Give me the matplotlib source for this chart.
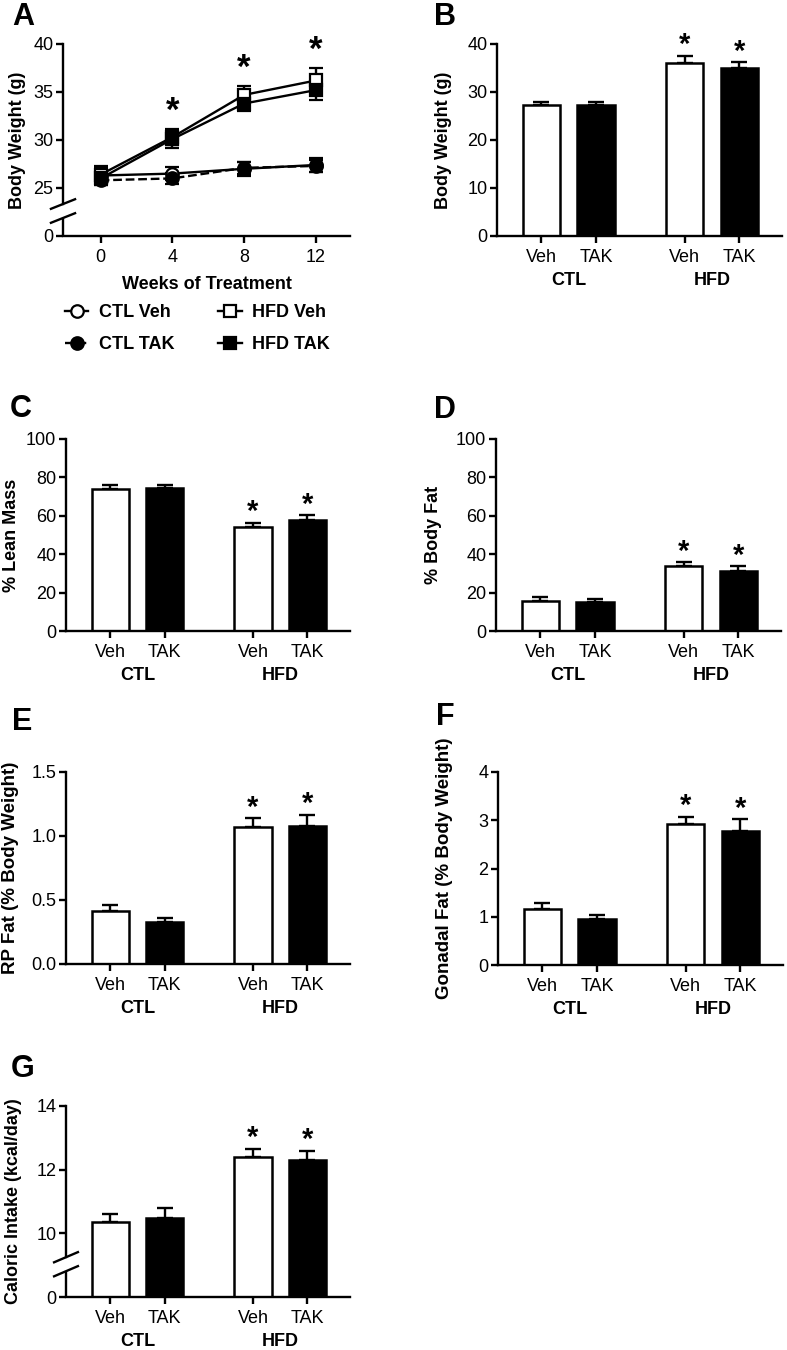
import matplotlib.pyplot as plt
import matplotlib.lines as mlines

plt.rcParams['font.family'] = ['Liberation Sans', 'DejaVu Sans']
plt.rcParams['axes.linewidth'] = 1.7
plt.rcParams['xtick.major.width'] = 1.7
plt.rcParams['ytick.major.width'] = 1.7
plt.rcParams['xtick.major.size'] = 5
plt.rcParams['ytick.major.size'] = 5
plt.rcParams['xtick.major.pad'] = 4.5
plt.rcParams['ytick.major.pad'] = 2
plt.rcParams['xtick.labelsize'] = 13
plt.rcParams['ytick.labelsize'] = 13

# panel A data: body weight over time
weeks = [0, 4, 8, 12]
ctl_veh = [26.3, 26.5, 27.0, 27.4]
ctl_veh_err = [0.8, 0.65, 0.7, 0.7]
ctl_tak = [25.8, 26.0, 27.1, 27.3]
ctl_tak_err = [0.5, 0.55, 0.6, 0.6]
hfd_veh = [26.4, 30.3, 34.7, 36.2]
hfd_veh_err = [0.9, 0.8, 0.9, 1.3]
hfd_tak = [26.0, 30.1, 33.8, 35.2]
hfd_tak_err = [0.7, 0.9, 0.8, 1.0]
a_star_weeks = [4, 8, 12]

# bar panels: order CTL Veh, CTL TAK, HFD Veh, HFD TAK
bar_ticklabels = ['Veh', 'TAK', 'Veh', 'TAK']
groups = ['CTL', 'HFD']
bw_final = [27.2, 27.2, 36.0, 35.1]
bw_final_err = [0.8, 0.8, 1.6, 1.1]
lean = [74.2, 74.7, 54.3, 57.6]
lean_err = [2.0, 1.2, 2.1, 2.6]
fat = [15.7, 15.3, 33.9, 31.0]
fat_err = [1.9, 1.6, 1.8, 2.6]
rp_fat = [0.414, 0.325, 1.069, 1.077]
rp_fat_err = [0.049, 0.034, 0.069, 0.087]
gon_fat = [1.16, 0.945, 2.92, 2.77]
gon_fat_err = [0.13, 0.09, 0.15, 0.25]
cal = [10.36, 10.49, 12.39, 12.31]
cal_err = [0.26, 0.31, 0.27, 0.27]

fig = plt.figure(figsize=(7.87, 13.5), dpi=100)
W, H = 787.0, 1350.0


def add_ax(left, top, width, height):
    return fig.add_axes([left / W, 1 - (top + height) / H, width / W, height / H])


def style(ax):
    ax.spines['top'].set_visible(False)
    ax.spines['right'].set_visible(False)


def axis_break(ax, y_lo, y_hi, ymin, dy):
    # split the left spine and draw the two slanted marks
    ax.spines['left'].set_bounds(y_hi, ax.get_ylim()[1])
    tr = ax.get_yaxis_transform()
    ax.plot([0, 0], [ymin, y_lo], transform=tr, color='k', lw=1.7,
            clip_on=False, solid_capstyle='butt')
    for y in (y_lo, y_hi):
        ax.plot([-0.042, 0.042], [y - dy, y + dy], transform=tr, color='k',
                lw=1.7, clip_on=False)


def letter(ch, x, y):
    fig.text(x / W, 1 - y / H, ch, fontsize=22, fontweight='bold', va='baseline')


xpos = [0, 1, 2.62, 3.62]


def bar_panel(ax, vals, errs, ylim, yticks, ylabel, ylab_x, yticklabels=None,
              ylab_size=13):
    style(ax)
    colors = ['white', 'black', 'white', 'black']
    ax.bar(xpos, vals, width=0.68, color=colors, edgecolor='black',
           linewidth=1.8, zorder=2)
    ax.errorbar(xpos, vals, yerr=[[0] * 4, errs], fmt='none', ecolor='black',
                elinewidth=1.7, capsize=6, capthick=1.7, zorder=1)
    ax.set_xlim(-0.81, 4.4)
    ax.set_ylim(*ylim)
    ax.set_yticks(yticks)
    if yticklabels is not None:
        ax.set_yticklabels(yticklabels)
    ax.set_xticks(xpos)
    ax.set_xticklabels(bar_ticklabels)
    ax.set_ylabel(ylabel, fontsize=ylab_size, fontweight='bold')
    ax.yaxis.set_label_coords(ylab_x, 0.5)
    for gx, g in zip([0.5, 3.12], groups):
        ax.annotate(g, xy=(gx, 0), xycoords=('data', 'axes fraction'),
                    xytext=(0, -35.5), textcoords='offset points', ha='center',
                    va='baseline', fontsize=13, fontweight='bold')
    for i in (2, 3):
        ax.annotate('*', xy=(xpos[i], vals[i] + errs[i]), xytext=(0, 2),
                    textcoords='offset points', ha='center', va='baseline',
                    fontsize=21, fontweight='bold', annotation_clip=False)


# ---- A ----
axA = add_ax(63, 44, 287, 192)
style(axA)
series = [
    (ctl_veh, ctl_veh_err, 'o', 'white', '-'),
    (ctl_tak, ctl_tak_err, 'o', 'black', '--'),
    (hfd_veh, hfd_veh_err, 's', 'white', '-'),
    (hfd_tak, hfd_tak_err, 's', 'black', '-'),
]
for vals, errs, m, fc, ls in series:
    axA.errorbar(weeks, vals, yerr=errs, marker=m, mfc=fc, mec='black',
                 ms=9, mew=1.6, color='black', ls=ls, lw=1.7, elinewidth=1.7,
                 capsize=5, capthick=1.7)
axA.set_xlim(-2.1, 13.9)
axA.set_ylim(20, 40)
axA.set_xticks(weeks)
axA.set_yticks([20, 25, 30, 35, 40])
axA.set_yticklabels(['0', '25', '30', '35', '40'])
axA.set_ylabel('Body Weight (g)', fontsize=13, fontweight='bold')
axA.yaxis.set_label_coords(-0.129, 0.5)
axA.set_xlabel('Weeks of Treatment', fontsize=13, fontweight='bold')
axA.xaxis.set_label_coords(0.5, -0.21)
axis_break(axA, 21.875, 23.33, 20, 0.5)
for wk in a_star_weeks:
    i = weeks.index(wk)
    top = max(hfd_veh[i] + hfd_veh_err[i], hfd_tak[i] + hfd_tak_err[i])
    axA.annotate('*', xy=(wk, top), xytext=(0, 6), textcoords='offset points',
                 ha='center', va='baseline', fontsize=25, fontweight='bold',
                 annotation_clip=False)

handles = [
    mlines.Line2D([], [], color='k', marker='o', mfc='white', mec='k', ms=9, mew=1.6, ls='-', lw=1.7),
    mlines.Line2D([], [], color='k', marker='o', mfc='black', mec='k', ms=9, mew=1.6, ls='--', lw=1.7),
    mlines.Line2D([], [], color='k', marker='s', mfc='white', mec='k', ms=9, mew=1.6, ls='-', lw=1.7),
    mlines.Line2D([], [], color='k', marker='s', mfc='black', mec='k', ms=9, mew=1.6, ls='-', lw=1.7),
]
fig.legend(handles, ['CTL Veh', 'CTL TAK', 'HFD Veh', 'HFD TAK'], ncol=2,
           loc='upper left', bbox_to_anchor=(65 / W, 1 - 304 / H), frameon=False,
           borderpad=0, borderaxespad=0, handlelength=1.3, handletextpad=0.6,
           columnspacing=2.4, labelspacing=0.85,
           prop={'weight': 'bold', 'size': 13})

# ---- B ----
axB = add_ax(497, 44, 285, 192)
bar_panel(axB, bw_final, bw_final_err, (0, 40), [0, 10, 20, 30, 40],
          'Body Weight (g)', -0.158)

# ---- C ----
axC = add_ax(66, 439, 284, 192)
bar_panel(axC, lean, lean_err, (0, 100), [0, 20, 40, 60, 80, 100],
          '% Lean Mass', -0.162)

# ---- D ----
axD = add_ax(496, 439, 285, 192)
bar_panel(axD, fat, fat_err, (0, 100), [0, 20, 40, 60, 80, 100],
          '% Body Fat', -0.19)

# ---- E ----
axE = add_ax(66, 772, 284, 192)
bar_panel(axE, rp_fat, rp_fat_err, (0, 1.5), [0, 0.5, 1.0, 1.5],
          'RP Fat (% Body Weight)', -0.165, ['0.0', '0.5', '1.0', '1.5'],
          ylab_size=13.5)

# ---- F ----
axF = add_ax(498, 772, 285, 193)
bar_panel(axF, gon_fat, gon_fat_err, (0, 4), [0, 1, 2, 3, 4],
          'Gonadal Fat (% Body Weight)', -0.158, ylab_size=13.5)

# ---- G ----
axG = add_ax(66, 1106, 284, 191)
bar_panel(axG, cal, cal_err, (8, 14), [8, 10, 12, 14],
          'Caloric Intake (kcal/day)', -0.155, ['0', '10', '12', '14'])
axis_break(axG, 8.81, 9.25, 8, 0.16)

for ch, x, y in [('A', 12, 25), ('B', 434, 25), ('C', 10, 417), ('D', 434, 418),
                 ('E', 12, 730), ('F', 436, 725), ('G', 11, 1077)]:
    letter(ch, x, y)

fig.savefig('out.png', dpi=100)
